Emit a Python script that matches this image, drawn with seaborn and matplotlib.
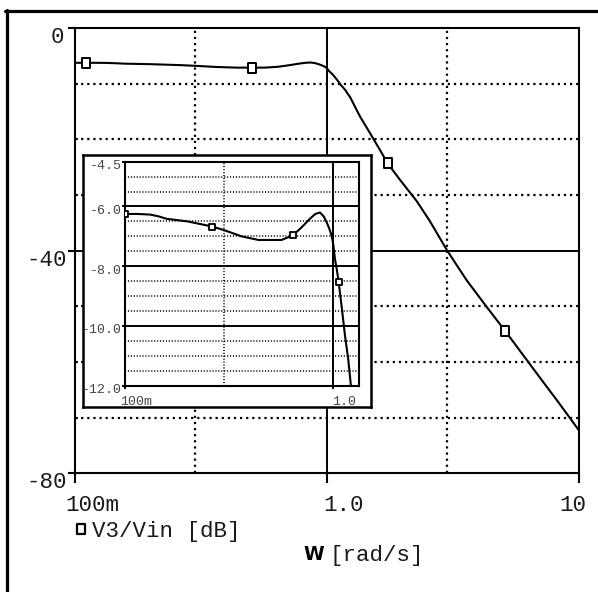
import numpy as np
import pandas as pd
import matplotlib
matplotlib.use("Agg")
import matplotlib.pyplot as plt
import matplotlib.transforms as mtrans
from matplotlib.lines import Line2D
from matplotlib.path import Path
from matplotlib.ticker import NullLocator
import seaborn as sns

# ---------------- data ----------------
omega = [0.100, 0.115, 0.132, 0.145, 0.158, 0.20, 0.262, 0.302, 0.363, 0.437,
         0.50, 0.565, 0.638, 0.70, 0.773, 0.82, 0.863, 0.90, 0.929, 0.955,
         0.982, 1.00, 1.019, 1.04, 1.062, 1.10, 1.138, 1.18, 1.216, 1.233,
         1.352, 1.482, 1.622, 1.74, 1.95, 2.27, 2.56, 3.0, 3.58, 4.30,
         5.09, 6.01, 7.21, 8.15, 10.0]
gain_db = [-6.25, -6.25, -6.27, -6.33, -6.41, -6.50, -6.67, -6.80, -7.00, -7.12,
           -7.12, -7.12, -6.97, -6.72, -6.41, -6.25, -6.20, -6.33, -6.52, -6.72,
           -6.97, -7.25, -7.75, -8.10, -8.53, -9.40, -10.30, -11.10, -12.00, -12.35,
           -15.90, -18.90, -21.90, -24.30, -27.30, -31.10, -34.70, -40.00, -45.30, -50.10,
           -54.40, -58.80, -63.60, -66.80, -72.30]

main_marker_w = [0.111, 0.506, 1.74, 5.09]
main_marker_db = [-6.20, -7.12, -24.30, -54.40]
inset_marker_w = [0.1, 0.262, 0.638, 1.062]
inset_marker_db = [-6.25, -6.67, -6.97, -8.53]

main_xticks = [0.1, 1.0, 10.0]
main_xticklabels = ["100m", "1.0", "10"]
main_yticks = [0.0, -40.0, -80.0]
main_yticklabels = ["0", "-40", "-80"]
inset_xticks = [0.1, 1.0]
inset_xticklabels = ["100m", "1.0"]
inset_yticks = [-4.5, -6.0, -8.0, -10.0, -12.0]
inset_yticklabels = ["-4.5", "-6.0", "-8.0", "-10.0", "-12.0"]

legend_label = "V3/Vin [dB]"
xlabel_symbol = "W"
xlabel_unit = "[rad/s]"

df = pd.DataFrame({"w": omega, "dB": gain_db})

# ---------------- style ----------------
sns.set_theme(style="white")
plt.rcParams["font.family"] = ["Liberation Mono", "DejaVu Sans"]
plt.rcParams["lines.scale_dashes"] = False

W, H = 598, 592
fig = plt.figure(figsize=(W / 100, H / 100), dpi=100)
fig.patch.set_facecolor("white")


def box(l, t, r, b):
    return [l / W, 1 - b / H, (r - l) / W, (b - t) / H]


def px(dx, dy):
    return mtrans.ScaledTranslation(dx / 100, dy / 100, fig.dpi_scale_trans)


rect = Path([(-4, -5), (4, -5), (4, 5), (-4, 5), (-4, -5)],
            [Path.MOVETO, Path.LINETO, Path.LINETO, Path.LINETO, Path.CLOSEPOLY])

TXT = "#1a1a1a"
FS = 16.2

# ---------------- main axes ----------------
ax = fig.add_axes(box(75, 28, 579, 473.3))
ax.set_xscale("log")
ax.set_xlim(0.1, 10)
ax.set_ylim(-80, 0)
ax.set_facecolor("white")

for y in [-10, -20, -30, -50, -60, -70]:
    ax.axhline(y, color="black", lw=1.6, dashes=(1.6, 2.8), zorder=1)
for x in [0.3, 3.0]:
    ax.axvline(x, color="black", lw=1.6, dashes=(1.6, 2.8), zorder=1)
ax.axhline(-40, color="black", lw=1.4, zorder=1)
ax.axvline(1.0, color="black", lw=1.4, zorder=1)

sns.lineplot(data=df, x="w", y="dB", ax=ax, color="black", lw=1.5,
             sort=False, estimator=None, zorder=3)
sns.scatterplot(x=main_marker_w, y=main_marker_db, ax=ax, marker=rect, s=58,
                color="white", edgecolor="black", linewidth=1.4, zorder=4)
ax.set_xlabel("")
ax.set_ylabel("")

for sp in ax.spines.values():
    sp.set_linewidth(1.5)
    sp.set_color("black")

ax.set_xticks(main_xticks)
ax.xaxis.set_minor_locator(NullLocator())
ax.set_yticks(main_yticks)
ax.set_yticks([-10, -20, -30, -50, -60, -70], minor=True)
ax.tick_params(axis="x", which="major", direction="out", length=7.2, width=1.5,
               labelbottom=False, bottom=True, color="black")
ax.tick_params(axis="y", which="major", direction="out", length=5, width=1.5,
               labelleft=False, left=True, color="black")
ax.tick_params(axis="y", which="minor", direction="in", length=1.8, width=1.2,
               left=True, color="black")

xoff = [-10, -4, -20]
for xv, lab, dx in zip(main_xticks, main_xticklabels, xoff):
    ax.text(xv, 0, lab, transform=mtrans.blended_transform_factory(ax.transData, ax.transAxes) + px(dx, -22),
            ha="left", va="top", fontsize=FS, color=TXT)
yoff = [-11, -8, -8]
for yv, lab, dx in zip(main_yticks, main_yticklabels, yoff):
    ax.text(0, yv, lab, transform=mtrans.blended_transform_factory(ax.transAxes, ax.transData) + px(dx, 1),
            ha="right", va="top", fontsize=FS, color=TXT)

# ---------------- inset ----------------
frame = fig.add_axes(box(82.7, 155, 370.5, 406.7))
frame.set_facecolor("white")
frame.set_xticks([])
frame.set_yticks([])
for sp in frame.spines.values():
    sp.set_linewidth(1.8)
    sp.set_color("black")
frame.set_zorder(5)

ins = fig.add_axes(box(125, 161.7, 359, 385.7))
ins.set_zorder(6)
ins.set_facecolor("none")
ins.set_xscale("log")
ins.set_xlim(0.1, 1.33)
ins.set_ylim(-12, -4.5)

for y in [-5.0, -5.5, -6.5, -7.0, -7.5, -8.5, -9.0, -9.5, -10.5, -11.0, -11.5]:
    ins.axhline(y, color="black", lw=1.1, dashes=(0.8, 1.3), zorder=1)
ins.axvline(0.3, color="black", lw=1.1, dashes=(0.8, 1.3), zorder=1)
for y in [-6.0, -8.0, -10.0]:
    ins.axhline(y, color="black", lw=1.4, zorder=1)
ins.axvline(1.0, color="black", lw=1.4, zorder=1)

sns.lineplot(data=df, x="w", y="dB", ax=ins, color="black", lw=1.5,
             sort=False, estimator=None, zorder=3)
sns.scatterplot(x=inset_marker_w, y=inset_marker_db, ax=ins, marker=rect, s=22,
                color="white", edgecolor="black", linewidth=1.3, zorder=4)
ins.set_xlabel("")
ins.set_ylabel("")
for sp in ins.spines.values():
    sp.set_linewidth(1.5)
    sp.set_color("black")

ins.set_xticks(inset_xticks)
ins.xaxis.set_minor_locator(NullLocator())
ins.set_yticks(inset_yticks)
ins.tick_params(axis="x", which="major", direction="out", length=2.2, width=1.4,
                labelbottom=False, bottom=True, color="black")
ins.tick_params(axis="y", which="major", direction="out", length=2.2, width=1.4,
                labelleft=False, left=True, color="black")

ixoff = [-5, -1.5]
for xv, lab, dx in zip(inset_xticks, inset_xticklabels, ixoff):
    ins.text(xv, 0, lab, transform=mtrans.blended_transform_factory(ins.transData, ins.transAxes) + px(dx, -10),
             ha="left", va="top", fontsize=9.5, color="#444444")
for yv, lab in zip(inset_yticks, inset_yticklabels):
    ins.text(0, yv, lab, transform=mtrans.blended_transform_factory(ins.transAxes, ins.transData) + px(-3, 1.5),
             ha="right", va="top", fontsize=9.5, color="#444444")

# ---------------- legend & axis title ----------------
handle = Line2D([], [], ls="none", marker=rect, markersize=7.2, mfc="white",
                mec="black", mew=1.6)
ax.legend(handles=[handle], labels=[legend_label], loc="center left",
          bbox_to_anchor=(76.6 / W, 1 - 531 / H), bbox_transform=fig.transFigure,
          frameon=False, handlelength=0.4, handletextpad=0.28, borderpad=0,
          borderaxespad=0, fontsize=FS, labelcolor=TXT)

fig.text(303 / W, 1 - 554 / H, xlabel_symbol, family="DejaVu Sans",
         weight="heavy", fontsize=13.5, ha="left", va="center", color="black")
fig.text(329.7 / W, 1 - 555 / H, xlabel_unit, fontsize=FS, ha="left",
         va="center", color=TXT)

# ---------------- outer page frame (top and left edges) ----------------
fig.add_artist(Line2D([5 / W, 1.0], [1 - 10.8 / H, 1 - 10.8 / H],
                      transform=fig.transFigure, color="black", lw=2.3))
fig.add_artist(Line2D([6.5 / W, 6.5 / W], [1 - 9.5 / H, 0.0],
                      transform=fig.transFigure, color="black", lw=2.3))

fig.savefig("out.png", dpi=100, facecolor="white")
